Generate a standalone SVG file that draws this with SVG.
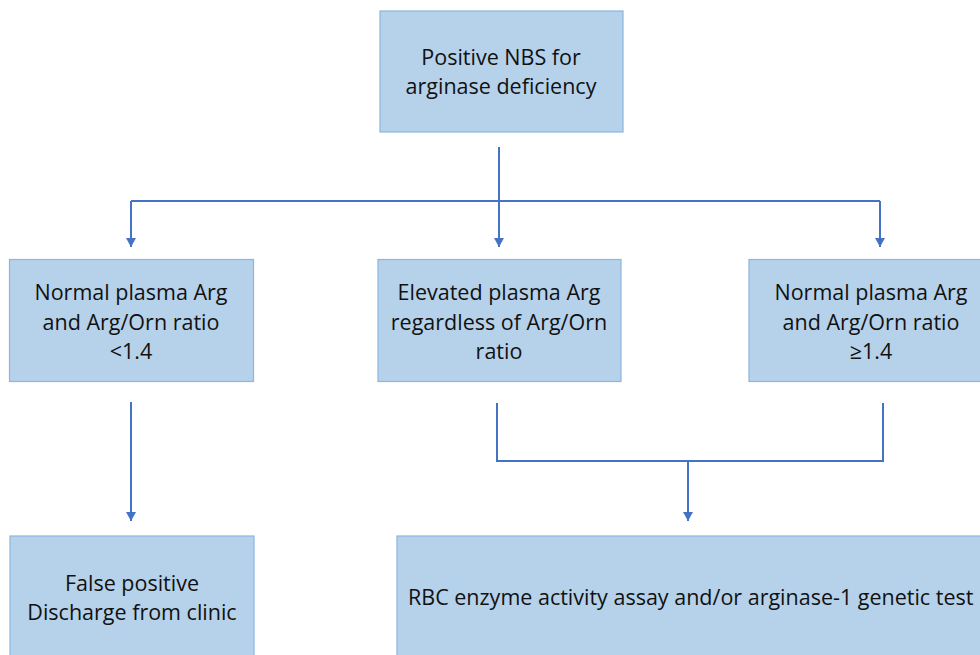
<svg xmlns="http://www.w3.org/2000/svg" width="980" height="655" viewBox="0 0 980 655">
<style>
.box{fill:#b6d1ea;stroke:#8db4e2;stroke-width:1.2}
.t{font-family:"Open Sans","Liberation Sans",sans-serif;font-size:21.5px;fill:#111;text-anchor:middle}
.c{fill:none;stroke:#4472c4;stroke-width:2}
</style>
<defs>
<marker id="a" markerWidth="10" markerHeight="9" refX="5" refY="9" orient="0" markerUnits="userSpaceOnUse" viewBox="0 0 10 9">
<path d="M0,0 L10,0 L5,9 Z" fill="#4472c4"/>
</marker>
</defs>
<rect width="980" height="655" fill="#fff"/>
<g id="n1"><rect class="box" x="380" y="11" width="243" height="121"/>
<text class="t" x="501" y="65">Positive NBS for</text><text class="t" x="501" y="94">arginase deficiency</text></g>
<g id="n2"><rect class="box" x="9.5" y="259.5" width="244" height="122"/>
<text class="t" x="131" y="300">Normal plasma Arg</text><text class="t" x="131" y="330">and Arg/Orn ratio</text><text class="t" x="131" y="359">&lt;1.4</text></g>
<g id="n3"><rect class="box" x="378" y="259.5" width="243" height="122"/>
<text class="t" x="499" y="300">Elevated plasma Arg</text><text class="t" x="499" y="330">regardless of Arg/Orn</text><text class="t" x="499" y="359">ratio</text></g>
<g id="n4"><rect class="box" x="749" y="259.5" width="244" height="122"/>
<text class="t" x="871" y="300">Normal plasma Arg</text><text class="t" x="871" y="330">and Arg/Orn ratio</text><text class="t" x="871" y="359">≥1.4</text></g>
<g id="n5"><rect class="box" x="10" y="536" width="244" height="125"/>
<text class="t" x="132" y="591">False positive</text><text class="t" x="132" y="620">Discharge from clinic</text></g>
<g id="n6"><rect class="box" x="397" y="536" width="600" height="125"/>
<text class="t" x="408" y="605" style="text-anchor:start">RBC enzyme activity assay and/or arginase-1 genetic test</text></g>
<g id="connectors">
<path class="c" d="M499,147 V201 M131,201 H880"/>
<path class="c" d="M131,201 V247" marker-end="url(#a)"/>
<path class="c" d="M499,201 V247" marker-end="url(#a)"/>
<path class="c" d="M880,201 V247" marker-end="url(#a)"/>
<path class="c" d="M131,402 V521" marker-end="url(#a)"/>
<path class="c" d="M497,403 V461 H883 V403 M688,461 V521" marker-end="url(#a)"/>
</g>
</svg>
